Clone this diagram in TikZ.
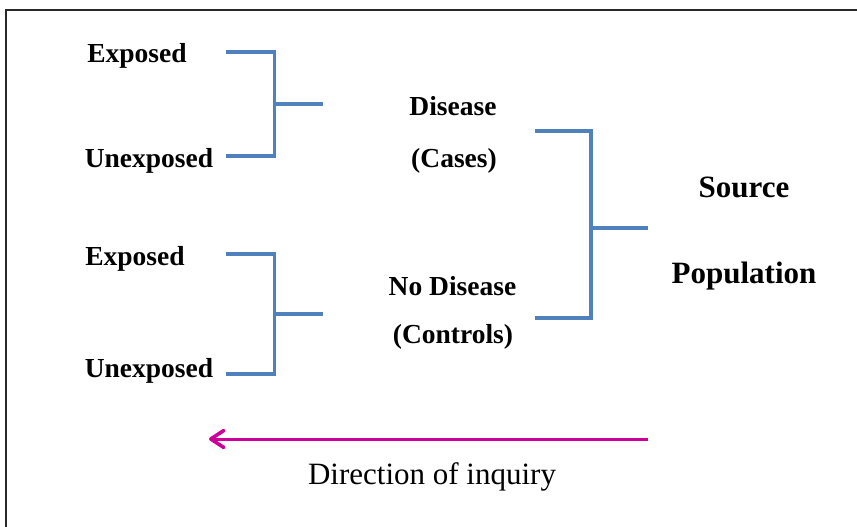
\documentclass[tikz,border=0pt]{standalone}
\usepackage{fontspec}
\setmainfont{Liberation Serif}
\usetikzlibrary{arrows.meta}
\definecolor{brblue}{RGB}{79,129,189}
\definecolor{inqmag}{RGB}{204,0,153}
\definecolor{framegray}{RGB}{40,40,40}
\tikzset{
  lbl/.style={anchor=base,inner sep=0pt,font=\bfseries\fontsize{27.5}{33}\selectfont},
  biglbl/.style={anchor=base,inner sep=0pt,font=\bfseries\fontsize{31}{37}\selectfont},
  plainlbl/.style={anchor=base,inner sep=0pt,font=\fontsize{31}{37}\selectfont},
  bracket/.style={draw=brblue,line width=3.2pt,line join=miter},
  inquiry/.style={draw=inqmag,line width=3pt,-{Straight Barb[length=13pt,width=17pt,line width=3.6pt,round]}},
  frameline/.style={draw=framegray,line width=1.6pt}
}
\begin{document}
\begin{tikzpicture}[x=1pt,y=-1pt]
\useasboundingbox (0,0) rectangle (857,527);
% frame
\coordinate (fr1) at (857,10);
\coordinate (fr2) at (6,10);
\coordinate (fr3) at (6,527);
\draw[frameline] (fr1) -- (fr2) -- (fr3);

% labels
\node[lbl] (e1) at (137,63) {Exposed};
\node[lbl] (u1) at (149,167) {Unexposed};
\node[lbl] (e2) at (135,265) {Exposed};
\node[lbl] (u2) at (149,377) {Unexposed};
\node[lbl] (dis) at (453,115) {Disease};
\node[lbl] (cas) at (454,167) {(Cases)};
\node[lbl] (nod) at (452.5,295) {No Disease};
\node[lbl] (con) at (453,343) {(Controls)};
\node[biglbl] (src) at (744,197) {Source};
\node[biglbl] (pop) at (744,283) {Population};
\node[plainlbl] (dir) at (432,484) {Direction of inquiry};

% bracket 1
\coordinate (b1t) at (226,52);
\coordinate (b1b) at (226,156);
\coordinate (b1s) at (323,104);
\draw[bracket] (b1t) -- (274.5,52) -- (274.5,156) -- (b1b);
\draw[bracket] (274.5,104) -- (b1s);
% bracket 2
\coordinate (b2t) at (226,254);
\coordinate (b2b) at (226,374);
\coordinate (b2s) at (323,314);
\draw[bracket] (b2t) -- (274.5,254) -- (274.5,374) -- (b2b);
\draw[bracket] (274.5,314) -- (b2s);
% bracket 3
\coordinate (b3t) at (535,131);
\coordinate (b3b) at (535,318);
\coordinate (b3s) at (648,228);
\draw[bracket] (b3t) -- (591,131) -- (591,318) -- (b3b);
\draw[bracket] (591,228) -- (b3s);

% direction arrow
\coordinate (arS) at (648,439);
\coordinate (arE) at (209,439);
\draw[inquiry] (arS) -- (arE);
\end{tikzpicture}
\end{document}
